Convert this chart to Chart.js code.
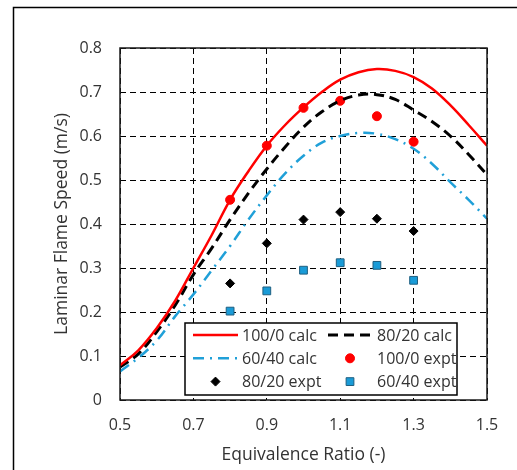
<!DOCTYPE html>
<html>
<head>
<meta charset="utf-8">
<script src="https://cdn.jsdelivr.net/npm/chart.js@4"></script>
<style>
  html, body { margin: 0; padding: 0; background: #fff; }
  #wrap { width: 517px; height: 470px; }
</style>
</head>
<body>
<div id="wrap"><canvas id="chart" width="517" height="470"></canvas></div>
<script>
// equivalence ratio grid for the calculated curves
const phiCalc = [0.5, 0.55, 0.6, 0.65, 0.7, 0.75, 0.8, 0.85, 0.9, 0.95, 1.0,
                 1.05, 1.1, 1.15, 1.2, 1.25, 1.3, 1.35, 1.4, 1.45, 1.5];
const calc100 = [0.079, 0.113, 0.163, 0.225, 0.300, 0.375, 0.455, 0.520, 0.578, 0.625, 0.665,
                 0.700, 0.728, 0.745, 0.752, 0.748, 0.734, 0.708, 0.670, 0.625, 0.578];
const calc80 = [0.075, 0.105, 0.155, 0.215, 0.285, 0.345, 0.410, 0.470, 0.525, 0.575, 0.620,
                0.655, 0.680, 0.693, 0.694, 0.683, 0.659, 0.633, 0.600, 0.558, 0.512];
const calc60 = [0.065, 0.096, 0.135, 0.190, 0.240, 0.295, 0.350, 0.410, 0.465, 0.515, 0.555,
                0.585, 0.600, 0.607, 0.605, 0.593, 0.571, 0.537, 0.495, 0.455, 0.412];

// experimental points
const phiExpt = [0.8, 0.9, 1.0, 1.1, 1.2, 1.3];
const expt100 = [0.455, 0.578, 0.664, 0.680, 0.645, 0.587];
const expt80 = [0.265, 0.356, 0.410, 0.427, 0.412, 0.384];
const expt60 = [0.202, 0.248, 0.295, 0.312, 0.306, 0.272];

const xTicks = [0.5, 0.7, 0.9, 1.1, 1.3, 1.5];
const yTicks = [0, 0.1, 0.2, 0.3, 0.4, 0.5, 0.6, 0.7, 0.8];

const FONT = '"Open Sans", "DejaVu Sans", sans-serif';
const TEXT = '#333333';

const pts = (xs, ys) => xs.map((x, i) => ({ x: x, y: ys[i] }));

const lineSet = (label, ys, color, dash, width) => ({
  label, data: pts(phiCalc, ys), borderColor: color, backgroundColor: color,
  borderWidth: width, borderDash: dash, pointRadius: 0, showLine: true,
  tension: 0.4, fill: false
});
const pointSet = (label, ys, style, fill, edge, r) => ({
  label, data: pts(phiExpt, ys), showLine: false, pointStyle: style,
  pointRadius: r, pointBackgroundColor: fill, pointBorderColor: edge,
  pointBorderWidth: 1, backgroundColor: fill, borderColor: edge
});

function drawMarker(ctx, style, x, y, r) {
  if (style === 'circle') {
    ctx.arc(x, y, r, 0, Math.PI * 2);
  } else if (style === 'rectRot') {
    ctx.moveTo(x - r, y); ctx.lineTo(x, y - r); ctx.lineTo(x + r, y); ctx.lineTo(x, y + r); ctx.closePath();
  } else {
    const s = r * Math.SQRT1_2;
    ctx.rect(x - s, y - s, 2 * s, 2 * s);
  }
}

// outer frame + plot border
const framePlugin = {
  id: 'frame',
  afterDraw(chart) {
    const { ctx, chartArea: a } = chart;
    ctx.save();
    ctx.strokeStyle = '#000';
    ctx.lineWidth = 1.5;
    ctx.beginPath();
    ctx.moveTo(13.5, 470); ctx.lineTo(13.5, 7.5); ctx.lineTo(517, 7.5);
    ctx.stroke();
    ctx.strokeStyle = '#1a1a1a';
    ctx.strokeRect(a.left, a.top, a.right - a.left, a.bottom - a.top);
    ctx.restore();
  }
};

// legend drawn inside plot area, two columns
const legendPlugin = {
  id: 'boxLegend',
  afterDraw(chart) {
    const { ctx } = chart;
    const ds = chart.data.datasets;
    const bx = 185, by = 323, bw = 272, bh = 72;
    ctx.save();
    ctx.fillStyle = '#fff';
    ctx.fillRect(bx, by, bw, bh);
    ctx.strokeStyle = '#000';
    ctx.lineWidth = 1.5;
    ctx.strokeRect(bx, by, bw, bh);
    ctx.font = '16px ' + FONT;
    ctx.textBaseline = 'middle';
    ds.forEach((d, i) => {
      const col = i % 2, row = Math.floor(i / 2);
      const x0 = col ? 328 : 193, x1 = col ? 372 : 238;
      const y = 335 + row * 23.3;
      if (d.showLine !== false) {
        ctx.strokeStyle = d.borderColor;
        ctx.lineWidth = d.borderWidth;
        ctx.setLineDash(d.borderDash || []);
        ctx.beginPath(); ctx.moveTo(x0, y); ctx.lineTo(x1, y); ctx.stroke();
        ctx.setLineDash([]);
      } else {
        ctx.fillStyle = d.pointBackgroundColor;
        ctx.strokeStyle = d.pointBorderColor;
        ctx.lineWidth = 1;
        ctx.beginPath();
        drawMarker(ctx, d.pointStyle, (x0 + x1) / 2, y, d.pointRadius);
        ctx.fill(); ctx.stroke();
      }
      ctx.fillStyle = TEXT;
      ctx.fillText(d.label, col ? 377 : 242, y + 1);
    });
    ctx.restore();
  }
};

new Chart(document.getElementById('chart'), {
  type: 'scatter',
  data: {
    datasets: [
      lineSet('100/0 calc', calc100, '#ff0000', [], 2.5),
      lineSet('80/20 calc', calc80, '#000000', [10, 6], 3),
      lineSet('60/40 calc', calc60, '#20a0d8', [11, 6, 2, 6], 2.5),
      pointSet('100/0 expt', expt100, 'circle', '#ff0000', '#ff0000', 4.5),
      pointSet('80/20 expt', expt80, 'rectRot', '#000000', '#000000', 4.5),
      pointSet('60/40 expt', expt60, 'rect', '#1a9bd7', '#1f5f80', 5.5)
    ]
  },
  options: {
    responsive: false,
    animation: false,
    layout: { padding: { top: 48, right: 30, left: 0, bottom: 0 } },
    plugins: { legend: { display: false }, tooltip: { enabled: false } },
    scales: {
      x: {
        type: 'linear', min: 0.5, max: 1.5,
        afterBuildTicks(s) { s.ticks = xTicks.map(v => ({ value: v })); },
        afterFit(s) { s.height = 70; },
        grid: { color: '#000', lineWidth: 1, drawTicks: false },
        border: { display: false, dash: [6, 4] },
        ticks: {
          padding: 16, color: TEXT, font: { family: FONT, size: 16 },
          maxRotation: 0, callback: v => v.toFixed(1)
        },
        title: {
          display: true, text: 'Equivalence Ratio (-)', color: TEXT,
          font: { family: FONT, size: 17.5 }, padding: { top: 0, bottom: 4 }
        }
      },
      y: {
        type: 'linear', min: 0, max: 0.8,
        afterBuildTicks(s) { s.ticks = yTicks.map(v => ({ value: v })); },
        afterFit(s) { s.width = 120; },
        grid: { color: '#000', lineWidth: 1, drawTicks: false },
        border: { display: false, dash: [6, 4] },
        ticks: {
          padding: 18, color: TEXT, font: { family: FONT, size: 16 },
          callback: v => (v === 0 ? '0' : v.toFixed(1))
        },
        title: {
          display: true, text: 'Laminar Flame Speed (m/s)', color: TEXT,
          font: { family: FONT, size: 17.5 }, padding: { top: 52, bottom: 0 }
        }
      }
    }
  },
  plugins: [framePlugin, legendPlugin]
});
</script>
</body>
</html>
